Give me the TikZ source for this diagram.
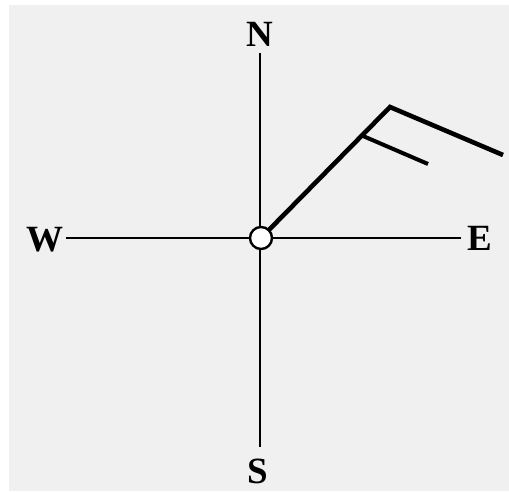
\documentclass[tikz,border=0pt]{standalone}
\usepackage{fontspec}
\setmainfont{Liberation Serif}
\begin{document}
\begin{tikzpicture}[x=1pt,y=-1pt,
  axis/.style={line width=2.9pt},
  shaft/.style={line width=4.6pt},
  barb/.style={line width=4pt},
  lbl/.style={font=\fontsize{37}{40}\selectfont\bfseries, inner sep=0pt},
  hub/.style={circle, draw, line width=2.4pt, fill=white, minimum size=22pt, inner sep=0pt}]
\useasboundingbox (0,0) rectangle (509,492);
\fill[white] (0,0) rectangle (509,492);
\fill[black!6] (9,5) rectangle (509,491);
\node[lbl] (N) at (260,34.5) {N};
\node[lbl] (S) at (258,471) {S};
\node[lbl] (W) at (45,240) {W};
\node[lbl] (E) at (479.5,238.5) {E};
\coordinate (nt) at (260,53);
\coordinate (sb) at (260,447);
\coordinate (wl) at (66,238);
\coordinate (er) at (461,238);
\coordinate (c) at (261,238);
\coordinate (tip) at (390,107);
\coordinate (b1) at (503,155);
\coordinate (k) at (363,136);
\coordinate (b2) at (428,164);
\draw[axis] (nt) -- (sb);
\draw[axis] (wl) -- (er);
\draw[shaft, line join=miter] (c) -- (tip) -- (b1);
\draw[barb] (k) -- (b2);
\node[hub] (hubnode) at (c) {};
\end{tikzpicture}
\end{document}
